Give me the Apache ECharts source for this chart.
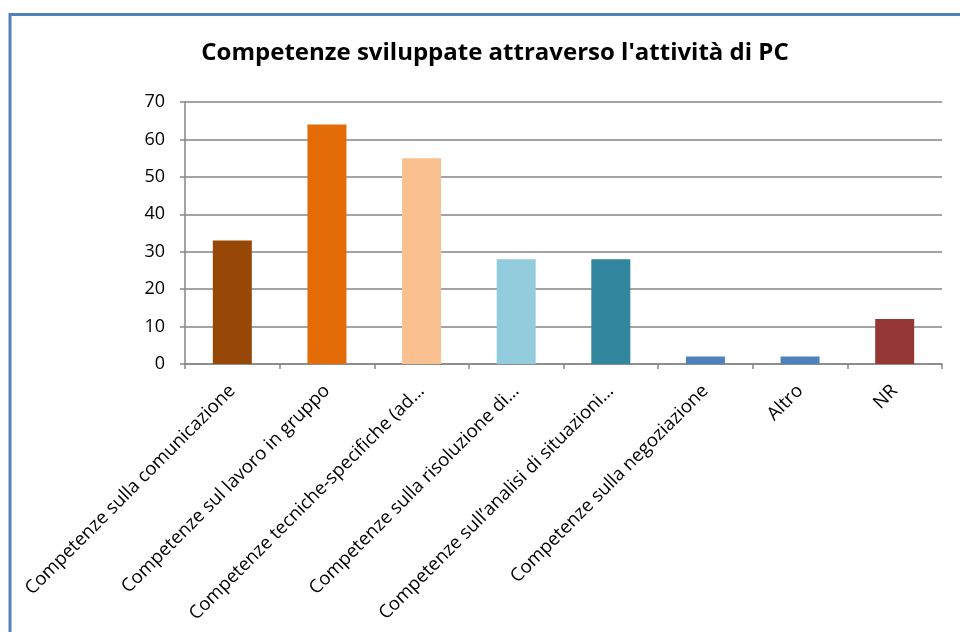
<!DOCTYPE html>
<html>
<head>
<meta charset="utf-8">
<script src="https://cdn.jsdelivr.net/npm/echarts@6/dist/echarts.min.js"></script>
<style>
  html, body { margin: 0; padding: 0; background: #fff; }
  #chart { width: 960px; height: 632px; }
</style>
</head>
<body>
<div id="chart"></div>
<script>
const categories = [
    'Competenze sulla comunicazione',
    'Competenze sul lavoro in gruppo',
    'Competenze tecniche-specifiche (ad…',
    'Competenze sulla risoluzione di…',
    'Competenze sull’analisi di situazioni…',
    'Competenze sulla negoziazione',
    'Altro',
    'NR'
];
const values = [33, 64, 55, 28, 28, 2, 2, 12];
const barColors = ['#974706', '#E36C09', '#FAC090', '#93CDDD', '#31859C', '#4F81BD', '#4F81BD', '#953735'];
const yTicks = { min: 0, max: 70, interval: 10 };

const font = '"Open Sans", "Liberation Sans", sans-serif';

const chart = echarts.init(document.getElementById('chart'));
chart.setOption({
    animation: false,
    title: {
        text: "Competenze sviluppate attraverso l'attività di PC",
        left: 490,
        textAlign: 'center',
        top: 36,
        textStyle: {
            fontFamily: font,
            fontWeight: 'bold',
            fontSize: 24,
            color: '#000'
        }
    },
    graphic: [
        {
            type: 'polyline',
            shape: { points: [[10, 632], [10, 14.5], [960, 14.5]] },
            style: { stroke: '#4F81BD', lineWidth: 3, fill: null }
        }
    ],
    grid: {
        left: 185,
        right: 18,
        top: 102,
        bottom: 268,
        containLabel: false
    },
    xAxis: {
        type: 'category',
        data: categories,
        axisLine: { lineStyle: { color: '#868686', width: 1.5 } },
        axisTick: { show: true, length: 5, alignWithLabel: false, lineStyle: { color: '#868686', width: 1.5 } },
        axisLabel: {
            interval: 0,
            rotate: 45,
            margin: 24,
            color: '#000',
            fontFamily: font,
            fontSize: 18.5
        }
    },
    yAxis: {
        type: 'value',
        min: yTicks.min,
        max: yTicks.max,
        interval: yTicks.interval,
        axisLine: { show: true, lineStyle: { color: '#868686', width: 1.5 } },
        axisTick: { show: true, length: 5, lineStyle: { color: '#868686', width: 1.5 } },
        splitLine: { show: true, lineStyle: { color: '#868686', width: 1.5 } },
        axisLabel: {
            color: '#000',
            fontFamily: font,
            fontSize: 18,
            margin: 20
        }
    },
    series: [
        {
            type: 'bar',
            data: values.map((v, i) => ({ value: v, itemStyle: { color: barColors[i] } })),
            barWidth: 39
        }
    ]
});
</script>
</body>
</html>
